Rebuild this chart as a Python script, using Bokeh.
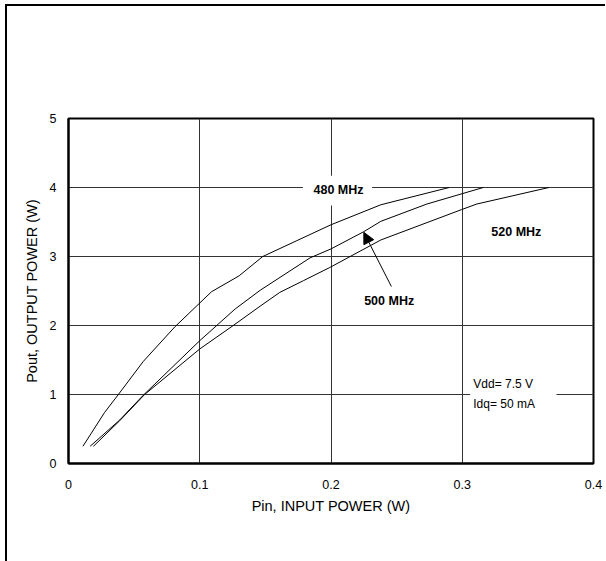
from bokeh.plotting import figure
from bokeh.models import Label, Arrow, NormalHead, BoxAnnotation, FixedTicker
from bokeh.embed import file_html
from bokeh.resources import INLINE

# ---- data ----
x480 = [0.011, 0.0275, 0.038, 0.057, 0.081, 0.109, 0.130, 0.148, 0.174, 0.200, 0.238, 0.290]
y480 = [0.25, 0.74, 1.0, 1.48, 1.98, 2.49, 2.72, 3.0, 3.23, 3.46, 3.75, 4.0]
x500 = [0.0165, 0.039, 0.057, 0.100, 0.127, 0.146, 0.184, 0.200, 0.225, 0.238, 0.273, 0.316]
y500 = [0.25, 0.63, 0.99, 1.78, 2.24, 2.51, 2.98, 3.11, 3.36, 3.51, 3.76, 4.0]
x520 = [0.019, 0.039, 0.058, 0.100, 0.1255, 0.146, 0.161, 0.179, 0.199, 0.238, 0.2995, 0.311, 0.366]
y520 = [0.25, 0.62, 1.0, 1.66, 2.0, 2.28, 2.48, 2.65, 2.84, 3.24, 3.68, 3.76, 4.0]
x_ticks = [0, 0.1, 0.2, 0.3, 0.4]
x_tick_labels = ["0", "0.1", "0.2", "0.3", "0.4"]
y_ticks = [0, 1, 2, 3, 4, 5]
y_tick_labels = ["0", "1", "2", "3", "4", "5"]
x_label = "Pin, INPUT POWER (W)"
y_label = "Pout, OUTPUT POWER (W)"
series_labels = ["480 MHz", "500 MHz", "520 MHz"]
cond_text = "Vdd= 7.5 V\nIdq= 50 mA"

FONT = "Liberation Sans"

p = figure(width=598, height=555, x_range=(0, 0.4), y_range=(0, 5),
           output_backend="svg", toolbar_location=None,
           frame_width=525, frame_height=345,
           min_border_left=61, min_border_top=112, min_border_right=12, min_border_bottom=98)
p.styles = {"border-left": "2px solid black", "border-top": "2px solid black",
            "margin-top": "4px", "margin-left": "5px"}

p.background_fill_color = "white"
p.border_fill_color = "white"
p.outline_line_color = "black"
p.outline_line_width = 2

for ax in (p.xaxis, p.yaxis):
    ax.axis_line_width = 2
    ax.axis_line_color = "black"
    ax.major_tick_out = 0
    ax.major_tick_in = 0
    ax.minor_tick_out = 0
    ax.minor_tick_in = 0
    ax.major_label_text_font = FONT
    ax.major_label_text_font_size = "12.5px"
    ax.major_label_text_color = "black"
    ax.axis_label_text_font = FONT
    ax.axis_label_text_font_size = "14.5px"
    ax.axis_label_text_font_style = "normal"
    ax.axis_label_text_color = "black"

p.xaxis.ticker = FixedTicker(ticks=x_ticks)
p.yaxis.ticker = FixedTicker(ticks=y_ticks)
p.xaxis.major_label_overrides = dict(zip(x_ticks, x_tick_labels))
p.yaxis.major_label_overrides = dict(zip(y_ticks, y_tick_labels))
p.xaxis.axis_label = x_label
p.yaxis.axis_label = y_label
p.xaxis.major_label_standoff = 16
p.yaxis.major_label_standoff = 12
p.xaxis.axis_label_standoff = 6
p.yaxis.axis_label_standoff = 7

p.grid.grid_line_color = "#333333"
p.grid.grid_line_width = 1
p.grid.grid_line_alpha = 1
p.xgrid.ticker = FixedTicker(ticks=x_ticks)
p.ygrid.ticker = FixedTicker(ticks=y_ticks)

p.line(x480, y480, line_color="black", line_width=1)
p.line(x500, y500, line_color="black", line_width=1)
p.line(x520, y520, line_color="black", line_width=1)

# white boxes behind labels (cover grid lines)
p.add_layout(BoxAnnotation(left=0.1786, right=0.2313, bottom=3.74, top=4.17,
                           fill_color="white", fill_alpha=1, line_alpha=0))
p.add_layout(BoxAnnotation(left=0.306, right=0.3718, bottom=0.77, top=1.26,
                           fill_color="white", fill_alpha=1, line_alpha=0))

lab_kw = dict(text_font=FONT, text_font_size="12.5px", text_font_style="bold",
              text_color="black", text_align="center", text_baseline="middle")
p.add_layout(Label(x=0.2057, y=3.96, text=series_labels[0], **lab_kw))
p.add_layout(Label(x=0.2443, y=2.35, text=series_labels[1], **lab_kw))
p.add_layout(Label(x=0.3412, y=3.36, text=series_labels[2], **lab_kw))

p.add_layout(Label(x=0.3084, y=1.01, text=cond_text, text_font=FONT, text_font_size="12px",
                   text_color="black", text_align="left", text_baseline="middle",
                   text_line_height=1.45))

p.add_layout(Arrow(x_start=0.246, y_start=2.565, x_end=0.225, y_end=3.35,
                   line_color="black", line_width=1,
                   end=NormalHead(size=11, fill_color="black", line_color="black")))

open("out.html", "w").write(file_html(p, INLINE))
